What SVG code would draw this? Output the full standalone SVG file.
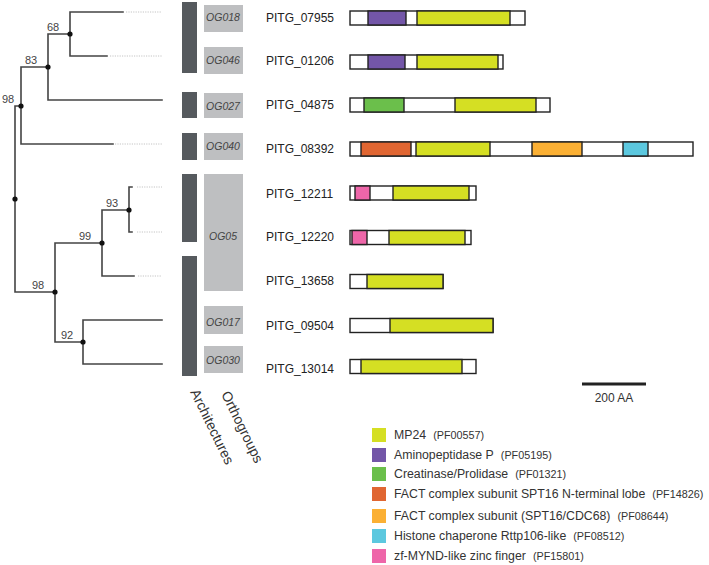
<svg xmlns="http://www.w3.org/2000/svg" width="709" height="565" viewBox="0 0 709 565">
<style>
.br{stroke:#444;stroke-width:1.6;fill:none;stroke-linecap:square}
.dot{stroke:#c4c4c4;stroke-width:1;stroke-dasharray:1.2 1.2;fill:none}
.nd{fill:#111}
.bs{font-family:"Liberation Sans",Arial,sans-serif;font-size:11px;fill:#444;text-anchor:middle}
.ar{fill:#565a5e}
.og{fill:#bebfc1}
.ogt{font-family:"Liberation Sans",Arial,sans-serif;font-size:10.5px;font-style:italic;fill:#444;text-anchor:middle}
.gn{font-family:"Liberation Sans",Arial,sans-serif;font-size:12px;fill:#222}
.bar{stroke:#222;stroke-width:1.4}
.w{fill:#fff}
.mp{fill:#d5df23}
.ap{fill:#7356a8}
.cr{fill:#6bbf4b}
.fn{fill:#e06632}
.fc{fill:#fbb034}
.hc{fill:#5cc8df}
.zf{fill:#ee66a9}
.lg{font-family:"Liberation Sans",Arial,sans-serif;font-size:12.3px;fill:#333}
.pf{font-size:10.8px}
.col{font-family:"Liberation Sans",Arial,sans-serif;font-size:14px;fill:#333}
</style>
<g id="tree">
<path class="br" d="M15,106 V292 M15,106 H21 M15,292 H55 M21,67 V144 M21,67 H48 M21,144 H113 M48,34 V100 M48,34 H70 M48,100 H162 M70,12 V56 M70,12 H123 M70,56 H107 M55,243 V342 M55,243 H102 M55,342 H83 M102,210 V276 M102,210 H129 M102,276 H134 M129,187 V232 M129,187 H132 M129,232 H132 M83,320 V364 M83,320 H162 M83,364 H162"/>
<path class="dot" d="M126,12 H162 M110,56 H162 M115,144 H162 M137,187 H162 M137,232 H162 M138,276 H162"/>
<circle class="nd" cx="15" cy="199" r="2.6"/>
<circle class="nd" cx="21" cy="106" r="2.6"/>
<circle class="nd" cx="48" cy="67" r="2.6"/>
<circle class="nd" cx="70" cy="34" r="2.6"/>
<circle class="nd" cx="55" cy="292" r="2.6"/>
<circle class="nd" cx="102" cy="243" r="2.6"/>
<circle class="nd" cx="129" cy="210" r="2.6"/>
<circle class="nd" cx="83" cy="342" r="2.6"/>
<text class="bs" x="53" y="31">68</text>
<text class="bs" x="31" y="64">83</text>
<text class="bs" x="8" y="103">98</text>
<text class="bs" x="112" y="207">93</text>
<text class="bs" x="85" y="240">99</text>
<text class="bs" x="38" y="289">98</text>
<text class="bs" x="67" y="339">92</text>
</g>
<g id="architectures">
<rect class="ar" x="182" y="2" width="15" height="71"/>
<rect class="ar" x="182" y="92" width="15" height="26"/>
<rect class="ar" x="182" y="133" width="15" height="27"/>
<rect class="ar" x="182" y="174" width="15" height="68"/>
<rect class="ar" x="182" y="256" width="15" height="120"/>
<text class="col" transform="translate(190,392) rotate(64)">Architectures</text>
</g>
<g id="orthogroups">
<rect class="og" x="204" y="5" width="39" height="27"/>
<text class="ogt" x="223" y="21">OG018</text>
<rect class="og" x="204" y="47" width="39" height="27"/>
<text class="ogt" x="223" y="64">OG046</text>
<rect class="og" x="204" y="93" width="39" height="25"/>
<text class="ogt" x="223" y="110">OG027</text>
<rect class="og" x="204" y="133" width="39" height="27"/>
<text class="ogt" x="223" y="150">OG040</text>
<rect class="og" x="204" y="174" width="39" height="117"/>
<text class="ogt" x="223" y="240">OG05</text>
<rect class="og" x="204" y="306" width="39" height="28"/>
<text class="ogt" x="223" y="326">OG017</text>
<rect class="og" x="204" y="346" width="39" height="27"/>
<text class="ogt" x="223" y="364">OG030</text>
<text class="col" transform="translate(221,394) rotate(64)">Orthogroups</text>
</g>
<g id="PITG_07955">
<text class="gn" x="266" y="22">PITG_07955</text>
<rect class="bar w" x="350" y="11" width="175" height="14"/>
<rect class="bar ap" x="368" y="11" width="38" height="14"/>
<rect class="bar mp" x="417" y="11" width="93" height="14"/>
</g>
<g id="PITG_01206">
<text class="gn" x="266" y="65">PITG_01206</text>
<rect class="bar w" x="350" y="55" width="153" height="14"/>
<rect class="bar ap" x="368" y="55" width="37" height="14"/>
<rect class="bar mp" x="417" y="55" width="81" height="14"/>
</g>
<g id="PITG_04875">
<text class="gn" x="266" y="109">PITG_04875</text>
<rect class="bar w" x="350" y="98" width="200" height="14"/>
<rect class="bar cr" x="364" y="98" width="40" height="14"/>
<rect class="bar mp" x="455" y="98" width="81" height="14"/>
</g>
<g id="PITG_08392">
<text class="gn" x="266" y="153">PITG_08392</text>
<rect class="bar w" x="350" y="142" width="343" height="14"/>
<rect class="bar fn" x="361" y="142" width="50" height="14"/>
<rect class="bar mp" x="416" y="142" width="74" height="14"/>
<rect class="bar fc" x="532" y="142" width="50" height="14"/>
<rect class="bar hc" x="623" y="142" width="25" height="14"/>
</g>
<g id="PITG_12211">
<text class="gn" x="266" y="198">PITG_12211</text>
<rect class="bar w" x="350" y="186" width="126" height="14"/>
<rect class="bar zf" x="355" y="186" width="15" height="14"/>
<rect class="bar mp" x="393" y="186" width="76" height="14"/>
</g>
<g id="PITG_12220">
<text class="gn" x="266" y="241">PITG_12220</text>
<rect class="bar w" x="350" y="230.5" width="121" height="14"/>
<rect class="bar zf" x="352" y="230.5" width="15" height="14"/>
<rect class="bar mp" x="389" y="230.5" width="76" height="14"/>
</g>
<g id="PITG_13658">
<text class="gn" x="266" y="285">PITG_13658</text>
<rect class="bar w" x="350" y="274.5" width="93" height="14"/>
<rect class="bar mp" x="367" y="274.5" width="76" height="14"/>
</g>
<g id="PITG_09504">
<text class="gn" x="266" y="330">PITG_09504</text>
<rect class="bar w" x="350" y="318.5" width="143" height="14"/>
<rect class="bar mp" x="390" y="318.5" width="103" height="14"/>
</g>
<g id="PITG_13014">
<text class="gn" x="266" y="373">PITG_13014</text>
<rect class="bar w" x="350" y="359.5" width="126" height="14"/>
<rect class="bar mp" x="361" y="359.5" width="101" height="14"/>
</g>
<g id="scale">
<line x1="582" y1="384" x2="646" y2="384" stroke="#222" stroke-width="3"/>
<text class="gn" x="614" y="402" text-anchor="middle" style="fill:#333">200 AA</text>
</g>
<g id="legend">
<rect class="mp" x="372" y="428" width="14" height="14"/>
<text class="lg" x="394" y="439">MP24<tspan class="pf" dx="7">(PF00557)</tspan></text>
<rect class="ap" x="372" y="448" width="14" height="14"/>
<text class="lg" x="394" y="459">Aminopeptidase P<tspan class="pf" dx="7">(PF05195)</tspan></text>
<rect class="cr" x="372" y="467" width="14" height="14"/>
<text class="lg" x="394" y="478">Creatinase/Prolidase<tspan class="pf" dx="7">(PF01321)</tspan></text>
<rect class="fn" x="372" y="487" width="14" height="14"/>
<text class="lg" x="394" y="498">FACT complex subunit SPT16 N-terminal lobe<tspan class="pf" dx="7">(PF14826)</tspan></text>
<rect class="fc" x="372" y="509" width="14" height="14"/>
<text class="lg" x="394" y="520">FACT complex subunit (SPT16/CDC68)<tspan class="pf" dx="7">(PF08644)</tspan></text>
<rect class="hc" x="372" y="529" width="14" height="14"/>
<text class="lg" x="394" y="540">Histone chaperone Rttp106-like<tspan class="pf" dx="7">(PF08512)</tspan></text>
<rect class="zf" x="372" y="549" width="14" height="14"/>
<text class="lg" x="394" y="560">zf-MYND-like zinc finger<tspan class="pf" dx="7">(PF15801)</tspan></text>
</g>
</svg>
